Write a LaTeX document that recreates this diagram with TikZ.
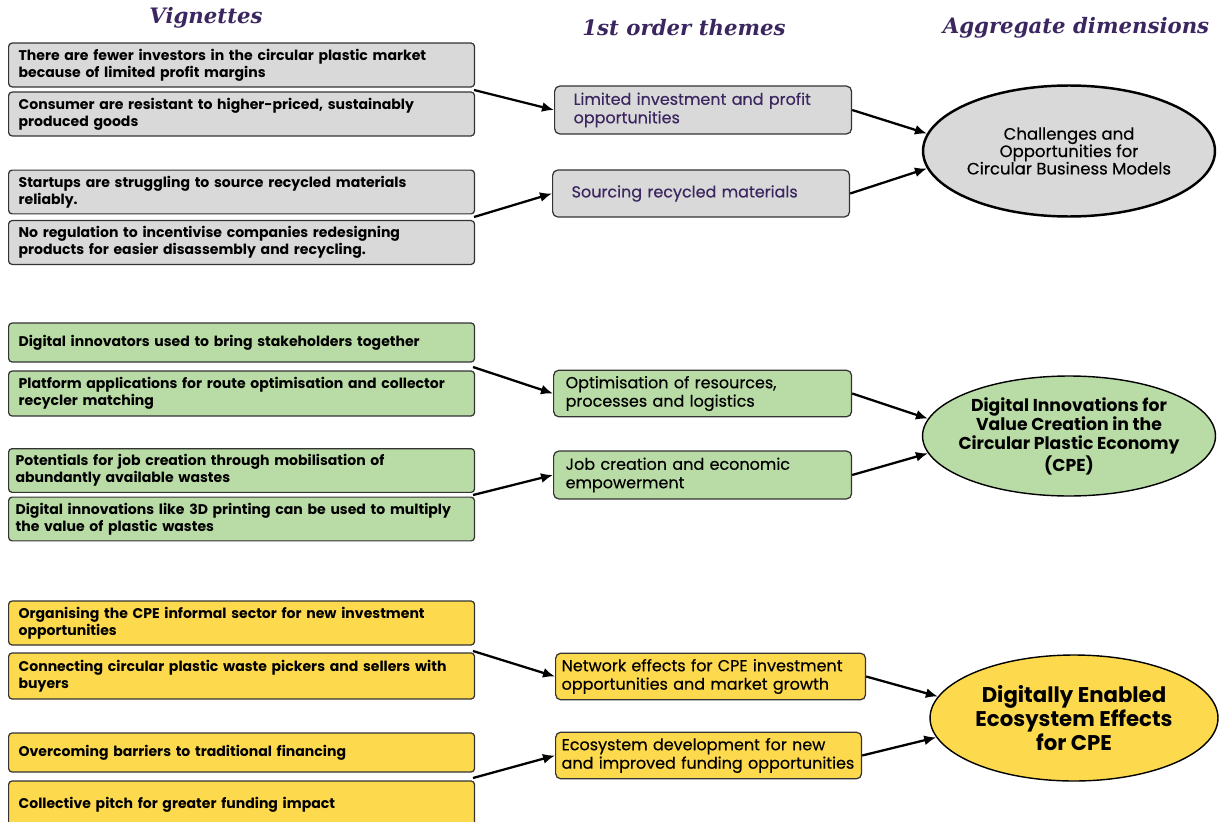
\documentclass[tikz,border=0pt]{standalone}
\usepackage{fontspec}
\setmainfont{Poppins}
\newfontfamily\medfont{Poppins}[FakeBold=0.35]
\newfontfamily\titlefont{DejaVu Serif}
\usetikzlibrary{shapes.geometric,arrows.meta}
\definecolor{titel}{HTML}{3B2660}
\definecolor{grau}{HTML}{D9D9D9}
\definecolor{gruen}{HTML}{B9DBA5}
\definecolor{gelb}{HTML}{FDD94D}

\begin{document}
\begin{tikzpicture}[x=0.02cm, y=-0.02cm,
	vig/.style={draw=black!80, line width=0.7pt, rounded corners=2pt, anchor=west,
		minimum width=9.32cm, text width=8.92cm, inner xsep=0.2cm, align=left,
		font=\fontsize{8}{9.7}\selectfont\bfseries},
	tema/.style={draw=black!80, line width=0.7pt, rounded corners=3pt, anchor=west,
		align=left, font=\medfont\fontsize{9.1}{10.5}\selectfont},
	temagrau/.style={tema, fill=grau, text=titel, inner xsep=0.38cm, text width=5.18cm},
	temagruen/.style={tema, fill=gruen, inner xsep=0.24cm, text width=5.48cm},
	temagelb/.style={tema, fill=gelb, inner xsep=0.12cm, text width=5.96cm},
	dim/.style={ellipse, draw, line width=0.8pt, inner sep=0pt, align=center},
	freccia/.style={-{Latex[length=2.4mm,width=2mm]}, line width=1.3pt},
	titolo/.style={text=titel, font=\titlefont\fontsize{12.1}{14}\selectfont\bfseries\itshape}]
	\useasboundingbox (0,0) rectangle (1222,821);

	%titoli
	\node[titolo] (tv) at (206,18) {Vignettes};
	\node[titolo] (tt) at (684,28) {1st order themes};
	\node[titolo] (ta) at (1076,28) {Aggregate dimensions};

	%gruppo grigio
	\node[vig, fill=grau, minimum height=0.84cm] (a1) at (8,65)
		{There are fewer investors in the circular plastic market\\because of limited profit margins};
	\node[vig, fill=grau, minimum height=0.80cm] (a2) at (8,114)
		{Consumer are resistant to higher-priced, sustainably\\produced goods};
	\node[vig, fill=grau, minimum height=0.80cm] (a3) at (8,192)
		{Startups are struggling to source recycled materials\\reliably.};
	\node[vig, fill=grau, minimum height=0.82cm] (a4) at (8,242.5)
		{No regulation to incentivise companies redesigning\\products for easier disassembly and recycling.};
	\coordinate (g1) at (474,90);
	\coordinate (g2) at (474,217);
	\node[temagrau, minimum height=0.96cm] (t1) at (554,110)
		{Limited investment and profit\\opportunities};
	\node[temagrau, minimum height=0.94cm] (t2) at (552,193.5)
		{Sourcing recycled materials};
	\node[dim, fill=grau, line width=1.4pt, minimum width=5.84cm, minimum height=2.62cm,
		font=\medfont\fontsize{9.4}{9.9}\selectfont] (e1) at (1069,151)
		{Challenges and\\Opportunities for\\Circular Business Models};
	\draw[freccia] (g1) -- (t1.west);
	\draw[freccia] (g2) -- (t2.west);
	\draw[freccia] (t1.east) -- (e1.173);
	\draw[freccia] (t2.east) -- (e1.187);

	%gruppo verde
	\node[vig, fill=gruen, minimum height=0.78cm] (b1) at (8,342.5)
		{Digital innovators used to bring stakeholders together};
	\node[vig, fill=gruen, minimum height=0.90cm] (b2) at (8,393.5)
		{Platform applications for route optimisation and collector\\recycler matching};
	\node[vig, fill=gruen, minimum height=0.82cm, inner xsep=0.14cm, text width=9.04cm] (b3) at (8,470.5)
		{Potentials for job creation through mobilisation of\\abundantly available wastes};
	\node[vig, fill=gruen, minimum height=0.80cm, inner xsep=0.14cm, text width=9.04cm] (b4) at (8,519)
		{Digital innovations like 3D printing can be used to multiply\\the value of plastic wastes};
	\coordinate (g3) at (473,367);
	\coordinate (g4) at (473,495);
	\node[temagruen, minimum height=0.90cm] (t3) at (553,393.5)
		{Optimisation of resources,\\processes and logistics};
	\node[temagruen, minimum height=0.96cm] (t4) at (553,475)
		{Job creation and economic\\empowerment};
	\node[dim, fill=gruen, inner sep=-6pt, minimum width=5.86cm, minimum height=2.4cm,
		font=\fontsize{9.8}{10.8}\selectfont\bfseries] (e2) at (1069,436)
		{Digital Innovations for\\Value Creation in the\\Circular Plastic Economy\\(CPE)};
	\draw[freccia] (g3) -- (t3.west);
	\draw[freccia] (g4) -- (t4.west);
	\draw[freccia] (t3.east) -- (e2.173);
	\draw[freccia] (t4.east) -- (e2.187);

	%gruppo giallo
	\node[vig, fill=gelb, minimum height=0.88cm] (c1) at (8,623)
		{Organising the CPE informal sector for new investment\\opportunities};
	\node[vig, fill=gelb, minimum height=0.92cm] (c2) at (8,676)
		{Connecting circular plastic waste pickers and sellers with\\buyers};
	\node[vig, fill=gelb, minimum height=0.78cm] (c3) at (8,752.5)
		{Overcoming barriers to traditional financing};
	\node[vig, fill=gelb, minimum height=0.96cm] (c4) at (8,805)
		{Collective pitch for greater funding impact};
	\coordinate (g5) at (473,651);
	\coordinate (g6) at (473,778);
	\node[temagelb, minimum height=0.90cm] (t5) at (555,676.5)
		{Network effects for CPE investment\\opportunities and market growth};
	\node[temagelb, minimum height=0.86cm, text width=5.88cm] (t6) at (555,755.5)
		{Ecosystem development for new\\and improved funding opportunities};
	\node[dim, fill=gelb, minimum width=5.76cm, minimum height=2.52cm,
		font=\fontsize{12.1}{12.6}\selectfont\bfseries] (e3) at (1074,718)
		{Digitally Enabled\\Ecosystem Effects\\for CPE};
	\draw[freccia] (g5) -- (t5.west);
	\draw[freccia] (g6) -- (t6.west);
	\draw[freccia] (t5.east) -- (e3.171);
	\draw[freccia] (t6.east) -- (e3.188);
\end{tikzpicture}
\end{document}
